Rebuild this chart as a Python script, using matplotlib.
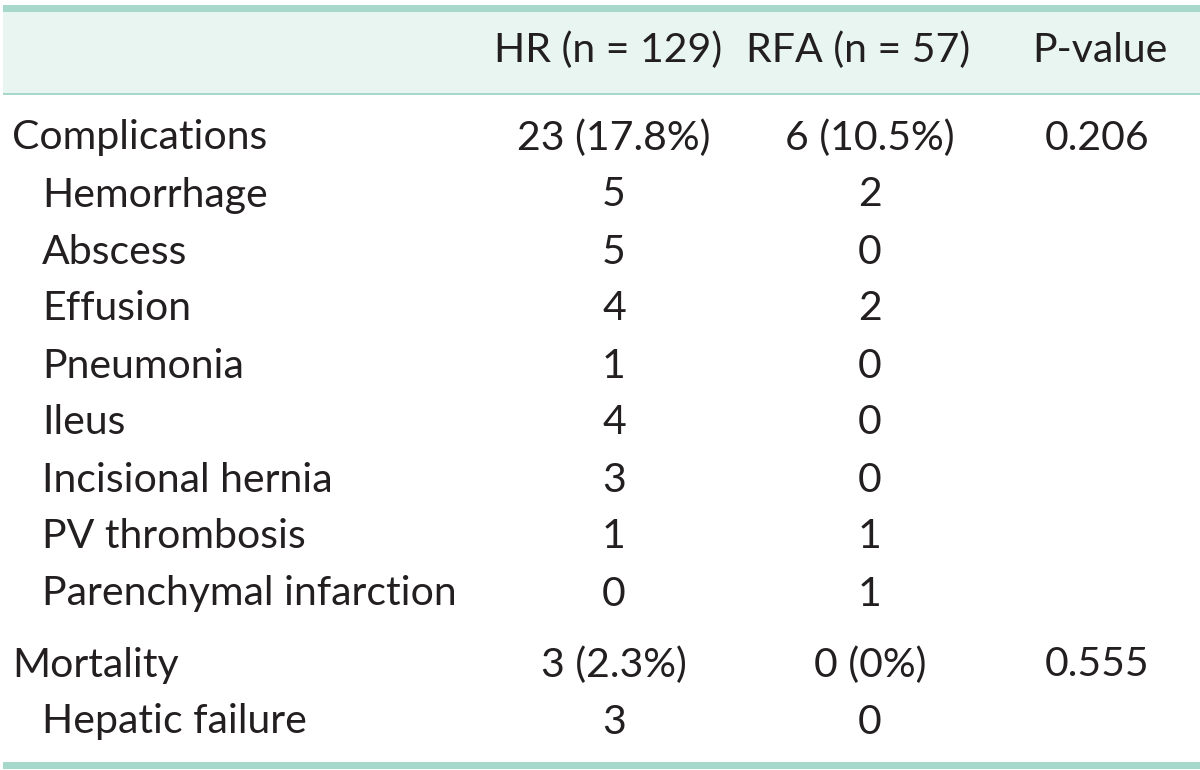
import matplotlib.pyplot as plt
from matplotlib.patches import Rectangle

# table content
header = ["HR (n = 129)", "RFA (n = 57)", "P-value"]
labels = ["Complications", "Hemorrhage", "Abscess", "Effusion", "Pneumonia", "Ileus",
          "Incisional hernia", "PV thrombosis", "Parenchymal infarction",
          "Mortality", "Hepatic failure"]
indent = [False, True, True, True, True, True, True, True, True, False, True]
hr_vals = ["23 (17.8%)", "5", "5", "4", "1", "4", "3", "1", "0", "3 (2.3%)", "3"]
rfa_vals = ["6 (10.5%)", "2", "0", "2", "0", "0", "0", "1", "1", "0 (0%)", "0"]
p_vals = ["0.206", "", "", "", "", "", "", "", "", "0.555", ""]

# row centers in pixels from top
row_y = [138, 195, 252, 309, 366, 423, 480, 537, 594, 665, 722]
col_x = [614, 870, 1097]
head_x = [608, 858, 1100]

W, H = 1200, 770
fig = plt.figure(figsize=(12, 7.7), dpi=100)
ax = fig.add_axes([0, 0, 1, 1])
ax.set_xlim(0, W)
ax.set_ylim(H, 0)
ax.axis("off")

line_c = "#a6d9cc"
bg_c = "#e8f5f1"
txt_c = "#231f20"
fs = 29.5
font = "Lato"

ax.add_patch(Rectangle((3, 12), W - 3, 82, color=bg_c, lw=0))
ax.add_patch(Rectangle((3, 5), W - 3, 7, color=line_c, lw=0))
ax.add_patch(Rectangle((3, 93), W - 3, 2, color=line_c, lw=0))
ax.add_patch(Rectangle((3, 762), W - 3, 7, color=line_c, lw=0))

for x, h in zip(head_x, header):
    ax.text(x, 50, h, ha="center", va="center", fontsize=fs, color=txt_c, family=font)

for i, lab in enumerate(labels):
    y = row_y[i]
    ax.text(42 if indent[i] else 12, y, lab, ha="left", va="center",
            fontsize=fs, color=txt_c, family=font)
    for x, v in zip(col_x, [hr_vals[i], rfa_vals[i], p_vals[i]]):
        if v:
            ax.text(x, y, v, ha="center", va="center", fontsize=fs, color=txt_c, family=font)

fig.savefig("out.png", dpi=100, facecolor="white")
